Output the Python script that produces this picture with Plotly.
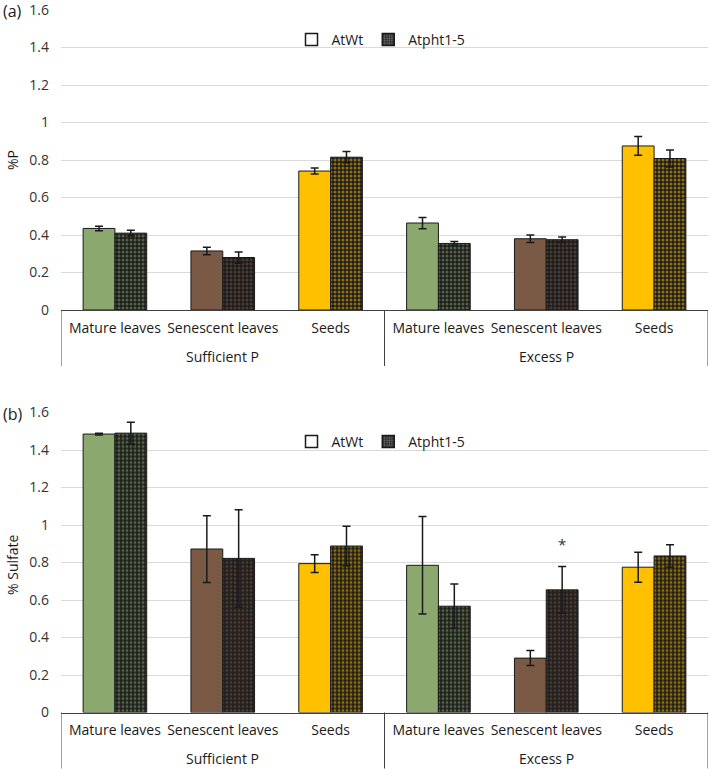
import plotly.graph_objects as go

groups = ["Sufficient P"] * 3 + ["Excess P"] * 3
tissues = ["Mature leaves", "Senescent leaves", "Seeds"] * 2
group_names = ["Sufficient P", "Excess P"]
y_ticks = [0, 0.2, 0.4, 0.6, 0.8, 1, 1.2, 1.4, 1.6]
y_ticklabels = ["0", "0.2", "0.4", "0.6", "0.8", "1", "1.2", "1.4", "1.6"]

p_wt = [0.435, 0.315, 0.741, 0.464, 0.38, 0.875]
p_wt_err = [0.012, 0.02, 0.016, 0.03, 0.02, 0.05]
p_mut = [0.41, 0.28, 0.815, 0.355, 0.375, 0.808]
p_mut_err = [0.015, 0.03, 0.03, 0.01, 0.015, 0.045]

s_wt = [1.485, 0.872, 0.794, 0.785, 0.29, 0.775]
s_wt_err = [0.005, 0.178, 0.047, 0.26, 0.04, 0.08]
s_mut = [1.49, 0.822, 0.888, 0.567, 0.654, 0.835]
s_mut_err = [0.058, 0.26, 0.106, 0.118, 0.125, 0.06]

tissue_colors = {"Mature leaves": "#8BA96F", "Senescent leaves": "#7A5A44", "Seeds": "#FFC000"}
colors = [tissue_colors[t] for t in tissues]
keys = [f"{g}|{t}" for g, t in zip(groups, tissues)]

FONT = "Open Sans"
FS = 14
BAR_LINE = "#1a1a1a"
DARK = "#1c1c1c"
AXC = "#404040"

fig = go.Figure()


def add_panel(wt, wt_err, mut, mut_err, xa, ya, leg):
    fig.add_trace(go.Bar(
        x=keys, y=wt, name="AtWt", showlegend=False, xaxis=xa, yaxis=ya, offsetgroup="wt",
        marker=dict(color=colors, line=dict(color=BAR_LINE, width=1)),
        error_y=dict(type="data", array=wt_err, color="#1a1a1a", thickness=1.5, width=4),
    ))
    fig.add_trace(go.Bar(
        x=keys, y=mut, name="Atpht1-5", showlegend=False, xaxis=xa, yaxis=ya, offsetgroup="mut",
        marker=dict(color=DARK, line=dict(color=BAR_LINE, width=1),
                    pattern=dict(shape=".", fillmode="overlay", fgcolor=colors, size=4, solidity=0.45)),
        error_y=dict(type="data", array=mut_err, color="#1a1a1a", thickness=1.5, width=4),
    ))
    # legend entries (no visible bars)
    fig.add_trace(go.Bar(
        x=keys[:1], y=[None], name="AtWt", legend=leg, xaxis=xa, yaxis=ya,
        offsetgroup="wt", showlegend=True,
        marker=dict(color="white", line=dict(color="#1a1a1a", width=1.5)),
    ))
    fig.add_trace(go.Bar(
        x=keys[:1], y=[None], name="Atpht1-5", legend=leg, xaxis=xa, yaxis=ya,
        offsetgroup="mut", showlegend=True,
        marker=dict(color=DARK, line=dict(color="#1a1a1a", width=1.5),
                    pattern=dict(shape=".", fillmode="overlay", fgcolor="#cccccc", size=3, solidity=0.45)),
    ))


add_panel(p_wt, p_wt_err, p_mut, p_mut_err, "x", "y", "legend")
add_panel(s_wt, s_wt_err, s_mut, s_mut_err, "x2", "y2", "legend2")

W, H = 709.0, 769.0
L, R = 61, 1
PW = W - L - R
panels = [
    dict(xref="x", top=10, bottom=310, legend_y=40, label="(a)", title="%P", title_y=160),
    dict(xref="x2", top=412.5, bottom=712.5, legend_y=442, label="(b)", title="% Sulfate", title_y=565),
]

xcommon = dict(
    type="category", categoryorder="array", categoryarray=keys,
    tickvals=keys, ticktext=tissues, range=[-0.5, len(keys) - 0.5],
    showline=True, linecolor=AXC, linewidth=1,
    ticks="", tickangle=0, automargin=False, ticklabelstandoff=5,
    tickfont=dict(family=FONT, size=FS, color="#1a1a1a"),
    showgrid=False, zeroline=False, fixedrange=True,
)
ycommon = dict(
    range=[0, 1.6], tickmode="array", tickvals=y_ticks, ticktext=y_ticklabels,
    showgrid=True, gridcolor="#d9d9d9", gridwidth=1, ticklabeloverflow="allow",
    zeroline=False, showline=False, ticks="", ticklen=0, automargin=False, ticklabelstandoff=11,
    tickfont=dict(family=FONT, size=FS, color="#333333"), fixedrange=True,
)

bargap = 0.41
fig.update_layout(
    width=W, height=H,
    margin=dict(l=L, r=R, t=0, b=0),
    paper_bgcolor="white", plot_bgcolor="white",
    barmode="group", bargap=bargap, bargroupgap=0,
    font=dict(family=FONT, size=FS, color="#1a1a1a"),
    xaxis=dict(anchor="y", **xcommon),
    xaxis2=dict(anchor="y2", **xcommon),
    yaxis=dict(domain=[1 - 310 / H, 1 - 10 / H], **ycommon),
    yaxis2=dict(domain=[1 - 712.5 / H, 1 - 412.5 / H], **ycommon),
    showlegend=True,
)

for i, p in enumerate(panels):
    lname = "legend" if i == 0 else "legend2"
    fig.update_layout({lname: dict(orientation="h", x=(381 - L) / PW, xanchor="center",
                                   y=1 - p["legend_y"] / H, yanchor="middle",
                                   font=dict(family=FONT, size=FS), bgcolor="rgba(0,0,0,0)",
                                   itemwidth=30, traceorder="normal")})
    # y-axis title
    fig.add_annotation(x=(12 - L) / PW, xref="paper", y=1 - p["title_y"] / H, yref="paper",
                       text=p["title"], textangle=-90, xanchor="center", yanchor="middle",
                       showarrow=False, font=dict(family=FONT, size=FS, color="#1a1a1a"))
    # panel label
    fig.add_annotation(x=(1 - L) / PW, xref="paper", y=1 - (p["top"] + 1) / H, yref="paper",
                       xanchor="left", yanchor="middle", text=p["label"], showarrow=False,
                       font=dict(family=FONT, size=16, color="#1a1a1a"))
    # group labels and dividers of the two-level category axis
    y_line_top = 1 - p["bottom"] / H
    y_line_bot = 1 - (p["bottom"] + 56) / H
    for gi, g in enumerate(group_names):
        fig.add_annotation(x=gi * 3 + 1, xref=p["xref"], y=1 - (p["bottom"] + 46) / H, yref="paper",
                           text=g, showarrow=False, xanchor="center", yanchor="middle",
                           font=dict(family=FONT, size=FS, color="#1a1a1a"))
    for xb in [-0.5, 2.5, 5.5]:
        fig.add_shape(type="line", xref=p["xref"], yref="paper", x0=xb, x1=xb,
                      y0=y_line_top, y1=y_line_bot, line=dict(color=AXC, width=1))

# asterisk over Excess P / Senescent leaves mutant bar
bw = (1 - bargap) / 2
fig.add_annotation(x=4 + bw / 2, xref="x2", y=0.9, yref="y2",
                   text="*", showarrow=False, font=dict(family=FONT, size=15, color="#333333"))

fig.write_html("out.html", config={"displayModeBar": False},
               post_script="document.body.style.margin='0';")
